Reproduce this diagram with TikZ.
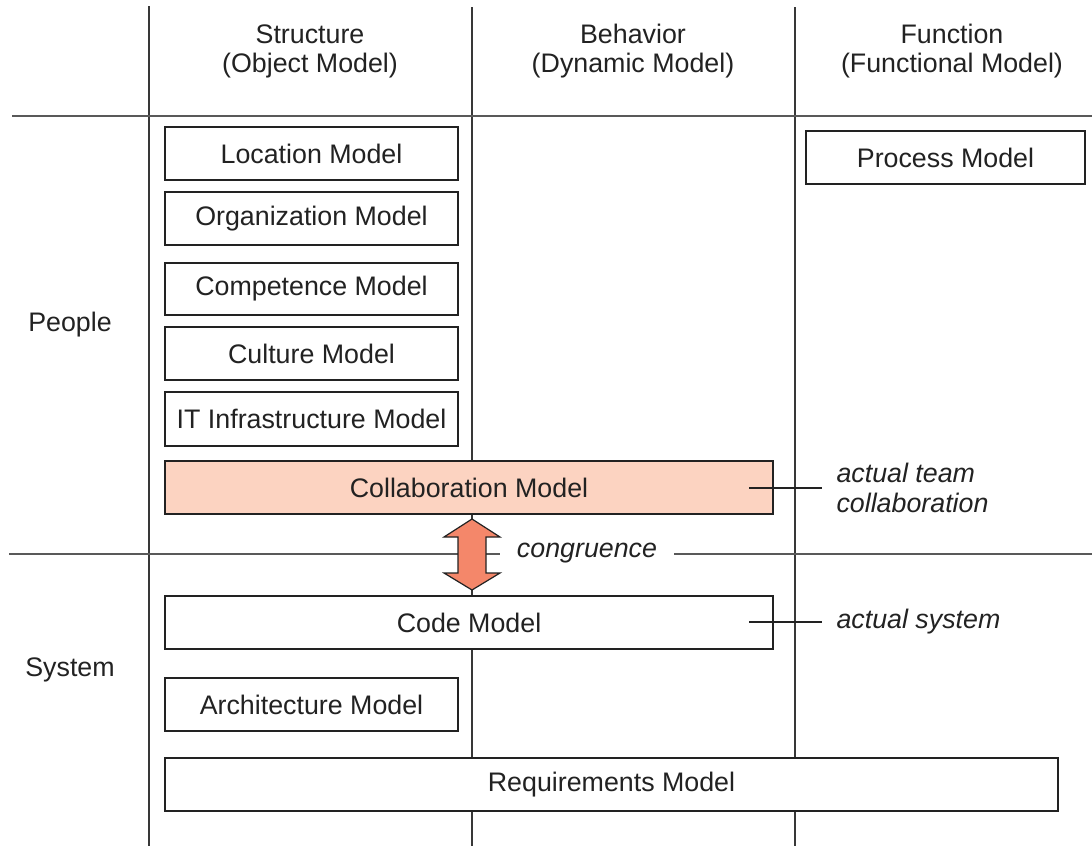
\documentclass[tikz,border=0pt]{standalone}
\usepackage{fontspec}
\setmainfont{Liberation Sans}
\definecolor{txt}{HTML}{222222}
\definecolor{collab}{HTML}{FCD3C1}
\definecolor{arrowfill}{HTML}{F4876A}
\begin{document}
\begin{tikzpicture}[x=1pt,y=-1pt,
  font=\fontsize{26.8}{29}\selectfont, text=txt,
  model/.style={draw=txt, line width=1.2pt, fill=white, text=txt, inner sep=0pt},
  grid/.style={draw=txt!90, line width=1.4pt},
  hgrid/.style={draw=black!65, line width=1.6pt},
  lbl/.style={align=center, text=txt},
  anno/.style={font=\fontsize{26.8}{30}\selectfont\itshape, align=left, anchor=west, text=txt},
  tick/.style={draw=txt, line width=1.2pt},
  congarrow/.style={draw=txt, line width=1.2pt, fill=arrowfill, line join=miter}]
\useasboundingbox (0,0) rectangle (1092,846);
% grid lines
\draw[grid] (149,6) -- (149,846);
\draw[grid] (472,7) -- (472,846);
\draw[grid] (795,7) -- (795,846);
\draw[hgrid] (12,116) -- (1092,116);
\coordinate (hl) at (9,554);
\coordinate (hr) at (1092,554);
\draw[hgrid] (hl) -- (hr);
% headers
\node[lbl] (h1) at (310,51) {Structure\\(Object Model)};
\node[lbl] (h2) at (633,51) {Behavior\\(Dynamic Model)};
\node[lbl] (h3) at (952,51) {Function\\(Functional Model)};
\node[lbl] (people) at (70,325) {People};
\node[lbl] (system) at (70,670) {System};
% boxes
\node[model, minimum width=293, minimum height=53] (loc) at (311.5,153.5) {Location Model};
\node[model, minimum width=293, minimum height=53] (org) at (311.5,218.5) {Organization Model};
\node[model, minimum width=293, minimum height=52] (comp) at (311.5,289) {Competence Model};
\node[model, minimum width=293, minimum height=53] (cult) at (311.5,353.5) {Culture Model};
\node[model, minimum width=293, minimum height=54] (it) at (311.5,419) {IT Infrastructure Model};
\node[model, fill=collab, minimum width=608, minimum height=53] (coll) at (469,487.5) {Collaboration Model};
\node[model, minimum width=279, minimum height=53] (proc) at (945.5,157.5) {Process Model};
\node[model, minimum width=608, minimum height=53] (code) at (469,622.5) {Code Model};
\node[model, minimum width=293, minimum height=53] (arch) at (311.5,704.5) {Architecture Model};
\node[model, minimum width=893, minimum height=53] (req) at (611.5,784.5) {Requirements Model};
% congruence label over the line
\node[anno, fill=white, inner xsep=17pt, anchor=center] (cong) at (587,553) {congruence};
% double arrow (congruence between collaboration and code)
\draw[congarrow] (472,519) -- (500,537) -- (486,537) -- (486,573) -- (500,573)
  -- (472,590) -- (444,573) -- (458,573) -- (458,537) -- (444,537) -- cycle;
% annotations
\node[anno] (a1) at (833,488) {actual team\\collaboration};
\node[anno] (a2) at (833,622) {actual system};
\coordinate (t1) at (749,488);
\coordinate (t1e) at (822,488);
\coordinate (t2) at (749,622);
\coordinate (t2e) at (822,622);
\draw[tick] (t1) -- (t1e);
\draw[tick] (t2) -- (t2e);
\end{tikzpicture}
\end{document}
